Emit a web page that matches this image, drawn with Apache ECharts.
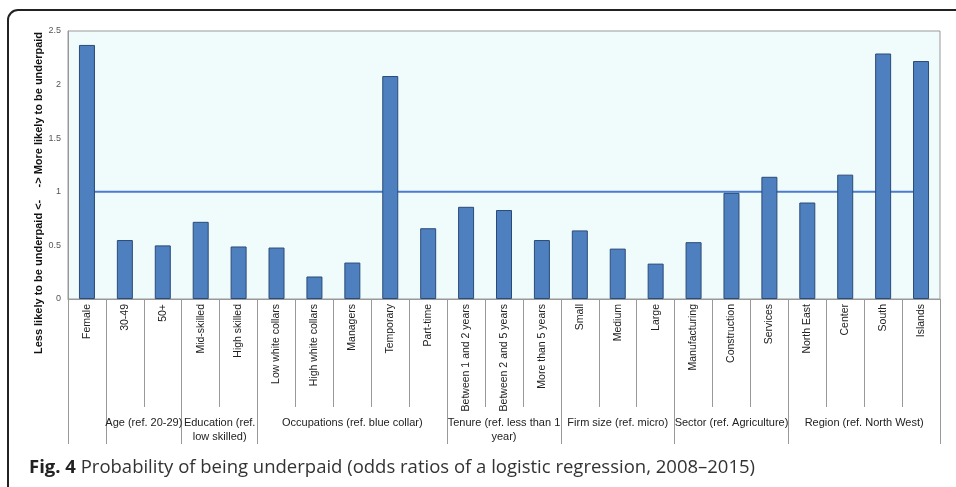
<!DOCTYPE html>
<html>
<head>
<meta charset="utf-8">
<script src="https://cdn.jsdelivr.net/npm/echarts@6/dist/echarts.min.js"></script>
<style>
  html, body { margin: 0; padding: 0; background: #fff; }
  #main { width: 956px; height: 487px; }
</style>
</head>
<body>
<div id="main"></div>
<script>
// categories and odds ratios
const categories = [
  'Female', '30-49', '50+', 'Mid-skilled', 'High skilled',
  'Low white collars', 'High white collars', 'Managers', 'Temporary', 'Part-time',
  'Between 1 and 2 years', 'Between 2 and 5 years', 'More than 5 years',
  'Small', 'Medium', 'Large',
  'Manufacturing', 'Construction', 'Services',
  'North East', 'Center', 'South', 'Islands'
];
const oddsRatios = [
  2.37, 0.55, 0.50, 0.72, 0.49,
  0.48, 0.21, 0.34, 2.08, 0.66,
  0.86, 0.83, 0.55,
  0.64, 0.47, 0.33,
  0.53, 0.99, 1.14,
  0.90, 1.16, 2.29, 2.22
];
const refValue = 1;

// group boundaries (in category units) and the group labels centred between them
const groupBounds = [0, 1, 3, 5, 10, 13, 16, 19, 23];
const groupNames = [
  '', 'Age (ref. 20-29)', 'Education (ref.\nlow skilled)', 'Occupations (ref. blue collar)',
  'Tenure (ref. less than 1\nyear)', 'Firm size (ref. micro)', 'Sector (ref. Agriculture)',
  'Region (ref. North West)'
];
const groupCenters = [];
for (let i = 0; i < groupNames.length; i++) {
  groupCenters.push((groupBounds[i] + groupBounds[i + 1]) / 2);
}

const yTicks = [0, 0.5, 1, 1.5, 2, 2.5];

const font = 'Liberation Sans, Arial, sans-serif';
let myChart = echarts.init(document.getElementById('main'));

myChart.setOption({
  animation: false,
  title: {
    left: 24,
    top: 453,
    text: '{b|Fig. 4} Probability of being underpaid (odds ratios of a logistic regression, 2008–2015)',
    textStyle: {
      fontFamily: 'Open Sans, Noto Sans, sans-serif',
      fontSize: 18.5,
      fontWeight: 'normal',
      color: '#333',
      rich: {
        b: { fontFamily: 'Open Sans, Noto Sans, sans-serif', fontSize: 18.5, fontWeight: 'bold', color: '#222' }
      }
    }
  },
  grid: {
    left: 68, right: 16, top: 31, bottom: 188,
    show: true,
    backgroundColor: '#F0FCFC',
    borderColor: '#999',
    borderWidth: 1
  },
  xAxis: [
    {
      type: 'category',
      data: categories,
      position: 'bottom',
      axisLine: { lineStyle: { color: '#999', width: 1 } },
      axisTick: { show: true, length: 108, interval: 0, lineStyle: { color: '#999' } },
      axisLabel: {
        interval: 0, rotate: 90, margin: 5,
        fontFamily: font, fontSize: 10.5, color: '#222'
      }
    },
    {
      type: 'value',
      min: 0, max: 23,
      position: 'bottom',
      axisLine: { show: false },
      splitLine: { show: false },
      axisTick: {
        show: true, length: 145,
        customValues: groupBounds,
        lineStyle: { color: '#999' }
      },
      axisLabel: {
        show: true,
        customValues: groupCenters,
        margin: 117,
        fontFamily: font, fontSize: 11, color: '#222', lineHeight: 14,
        formatter: function (v) {
          const i = groupCenters.indexOf(v);
          return i >= 0 ? groupNames[i] : '';
        }
      }
    }
  ],
  yAxis: {
    type: 'value',
    min: 0, max: 2.5, interval: 0.5,
    axisLine: { show: true, lineStyle: { color: '#999' } },
    axisTick: { show: false },
    splitLine: { show: false },
    axisLabel: {
      margin: 7, fontFamily: font, fontSize: 9, color: '#555',
      formatter: function (v) { return yTicks.indexOf(v) >= 0 ? String(v) : ''; }
    }
  },
  graphic: [
    {
      type: 'text',
      x: 39, y: 193,
      rotation: Math.PI / 2,
      style: {
        text: 'Less likely to be underpaid <-    -> More likely to be underpaid',
        font: 'bold 11px ' + font,
        fill: '#111',
        textAlign: 'center',
        textVerticalAlign: 'middle'
      }
    },
    {
      type: 'rect',
      shape: { x: 8, y: 10, width: 980, height: 520, r: 10 },
      style: { fill: 'none', stroke: '#222', lineWidth: 2 },
      silent: true
    }
  ],
  series: [
    {
      name: 'reference',
      type: 'line',
      xAxisIndex: 0,
      z: 1,
      symbol: 'none',
      lineStyle: { color: '#4A7BD0', width: 2 },
      data: categories.map(() => refValue)
    },
    {
      name: 'odds ratio',
      type: 'bar',
      xAxisIndex: 0,
      z: 2,
      barWidth: 16,
      itemStyle: { color: '#4E7FBE', borderColor: '#2A4B78', borderWidth: 1 },
      data: oddsRatios
    }
  ]
});
</script>
</body>
</html>
